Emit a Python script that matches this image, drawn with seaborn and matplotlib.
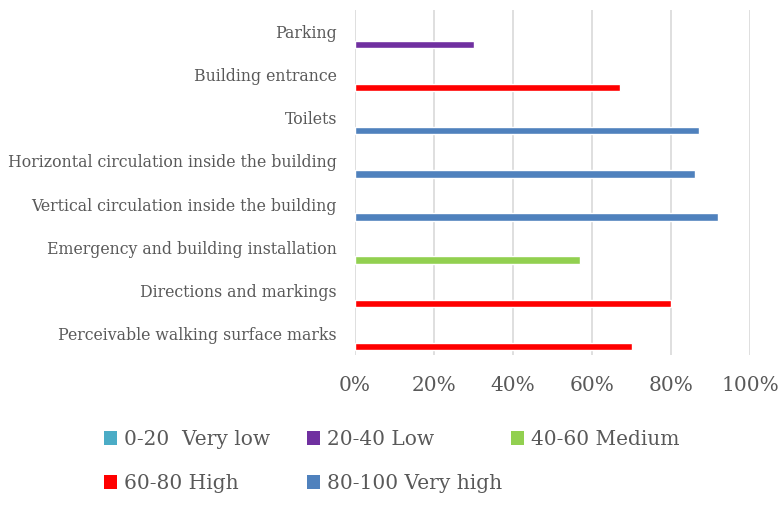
import matplotlib
matplotlib.use("Agg")
import matplotlib.pyplot as plt
from matplotlib.patches import Patch
from matplotlib.ticker import FuncFormatter
import numpy as np
import pandas as pd
import seaborn as sns

# Accessibility assessment per building element (percent)
categories = [
    "Parking",
    "Building entrance",
    "Toilets",
    "Horizontal circulation inside the building",
    "Vertical circulation inside the building",
    "Emergency and building installation",
    "Directions and markings",
    "Perceivable walking surface marks",
]
values = [30, 67, 87, 86, 92, 57, 80, 70]
levels = [
    "20-40 Low",
    "60-80 High",
    "80-100 Very high",
    "80-100 Very high",
    "80-100 Very high",
    "40-60 Medium",
    "60-80 High",
    "60-80 High",
]
level_names = ["0-20  Very low", "20-40 Low", "40-60 Medium", "60-80 High", "80-100 Very high"]
level_colors = ["#4BACC6", "#7030A0", "#92D050", "#FF0000", "#4F81BD"]
x_ticks = [0, 20, 40, 60, 80, 100]

palette = dict(zip(level_names, level_colors))
df = pd.DataFrame({"category": categories, "value": values, "level": levels})

sns.set_theme(style="white")
plt.rcParams["font.family"] = ["DejaVu Serif"]
text_color = "#595959"

fig = plt.figure(figsize=(7.81, 5.11), dpi=100)
ax = fig.add_axes([355 / 781, 1 - 355 / 511, 395 / 781, 345 / 511])

sns.barplot(
    data=df, y="category", x="value", hue="level", palette=palette,
    order=categories, dodge=False, width=0.17, legend=False, orient="h",
    saturation=1, ax=ax,
)

ax.set_xlim(0, 100)
ax.set_ylim(7.2, -0.8)
ax.set_xticks(x_ticks)
ax.xaxis.set_major_formatter(FuncFormatter(lambda v, _: f"{v:.0f}%"))
ax.set_yticks(np.arange(len(categories)) - 0.3)
ax.set_yticklabels(categories)
ax.set_xlabel("")
ax.set_ylabel("")
ax.grid(axis="x", color="#D9D9D9", linewidth=1.2)
ax.set_axisbelow(True)
for s in ax.spines.values():
    s.set_visible(False)
ax.tick_params(axis="y", length=0, pad=13, labelsize=11.3, labelcolor=text_color)
ax.tick_params(axis="x", length=0, pad=15, labelsize=14.5, labelcolor=text_color)

# Legend laid out in three fixed columns below the chart
columns = [[0, 3], [1, 4], [2]]
col_x = [104, 307, 511]
for xs, idxs in zip(col_x, columns):
    handles = [Patch(facecolor=level_colors[i], edgecolor="none") for i in idxs]
    labels = [level_names[i] for i in idxs]
    fig.legend(
        handles, labels, loc="upper left",
        bbox_to_anchor=(xs / 781, 1 - 430 / 511), bbox_transform=fig.transFigure,
        frameon=False, fontsize=14.5, labelcolor=text_color,
        handlelength=0.65, handleheight=0.65, handletextpad=0.35,
        labelspacing=1.25, borderpad=0, borderaxespad=0,
    )

fig.savefig("out.png", dpi=100, facecolor="white")
